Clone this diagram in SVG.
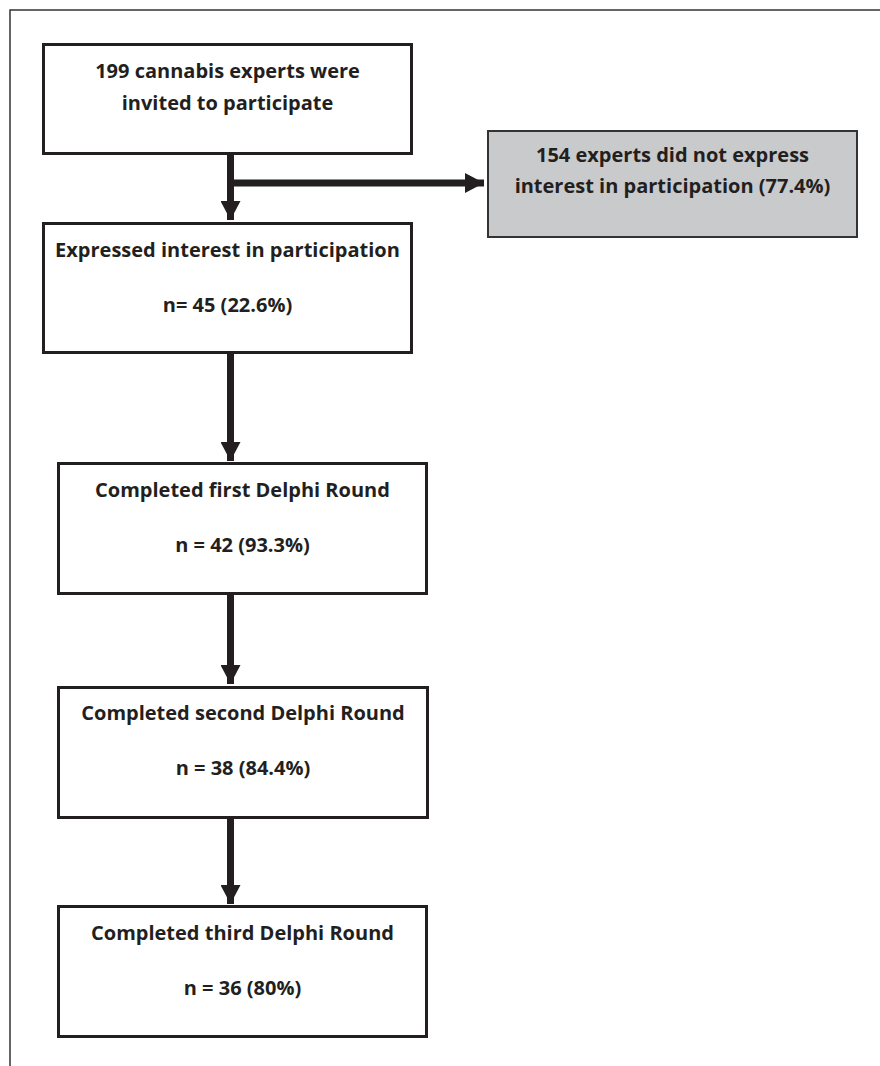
<svg xmlns="http://www.w3.org/2000/svg" width="880" height="1066" viewBox="0 0 880 1066">
  <style>
    .box { fill: #ffffff; stroke: #231f20; stroke-width: 3; }
    .gray { fill: #c9cacc; stroke: #333333; stroke-width: 2; }
    .lbl { font-family: "Open Sans", "Liberation Sans", sans-serif; font-weight: bold; font-size: 20px; fill: #231f20; text-anchor: middle; }
    .conn { stroke: #231f20; stroke-width: 7; fill: none; }
    .frame { stroke: #333333; stroke-width: 1.5; fill: none; }
  </style>
  <defs>
    <marker id="ah" markerUnits="userSpaceOnUse" markerWidth="20" markerHeight="20" refX="19" refY="10" orient="auto" viewBox="0 0 20 20">
      <path d="M0,0 L19,10 L0,20 Z" fill="#231f20"/>
    </marker>
  </defs>
  <rect width="880" height="1066" fill="#ffffff"/>
  <path class="frame" d="M10,1066 L10,10 L880,10"/>

  <g id="connectors">
    <line class="conn" x1="230.5" y1="153" x2="230.5" y2="220" marker-end="url(#ah)"/>
    <line class="conn" x1="227" y1="183" x2="484" y2="183" marker-end="url(#ah)"/>
    <line class="conn" x1="230.5" y1="353" x2="230.5" y2="461" marker-end="url(#ah)"/>
    <line class="conn" x1="230.5" y1="594" x2="230.5" y2="684" marker-end="url(#ah)"/>
    <line class="conn" x1="230.5" y1="817" x2="230.5" y2="904" marker-end="url(#ah)"/>
  </g>

  <g id="invited">
    <rect class="box" x="43.5" y="44.5" width="368" height="109"/>
    <text class="lbl" x="227.5" y="78">199 cannabis experts were</text>
    <text class="lbl" x="227.5" y="110">invited to participate</text>
  </g>

  <g id="not-interested">
    <rect class="gray" x="488" y="131" width="369" height="106"/>
    <text class="lbl" x="672.5" y="162">154 experts did not express</text>
    <text class="lbl" x="672.5" y="193">interest in participation (77.4%)</text>
  </g>

  <g id="interested">
    <rect class="box" x="43.5" y="223.5" width="368" height="129"/>
    <text class="lbl" x="227.5" y="257">Expressed interest in participation</text>
    <text class="lbl" x="227.5" y="312">n= 45 (22.6%)</text>
  </g>

  <g id="round1">
    <rect class="box" x="58.5" y="463.5" width="368" height="130"/>
    <text class="lbl" x="242.5" y="497">Completed first Delphi Round</text>
    <text class="lbl" x="242.5" y="552">n = 42 (93.3%)</text>
  </g>

  <g id="round2">
    <rect class="box" x="58.5" y="687.5" width="369" height="130"/>
    <text class="lbl" x="243" y="720">Completed second Delphi Round</text>
    <text class="lbl" x="243" y="775">n = 38 (84.4%)</text>
  </g>

  <g id="round3">
    <rect class="box" x="58.5" y="906.5" width="368" height="130"/>
    <text class="lbl" x="242.5" y="940">Completed third Delphi Round</text>
    <text class="lbl" x="242.5" y="995">n = 36 (80%)</text>
  </g>
</svg>
